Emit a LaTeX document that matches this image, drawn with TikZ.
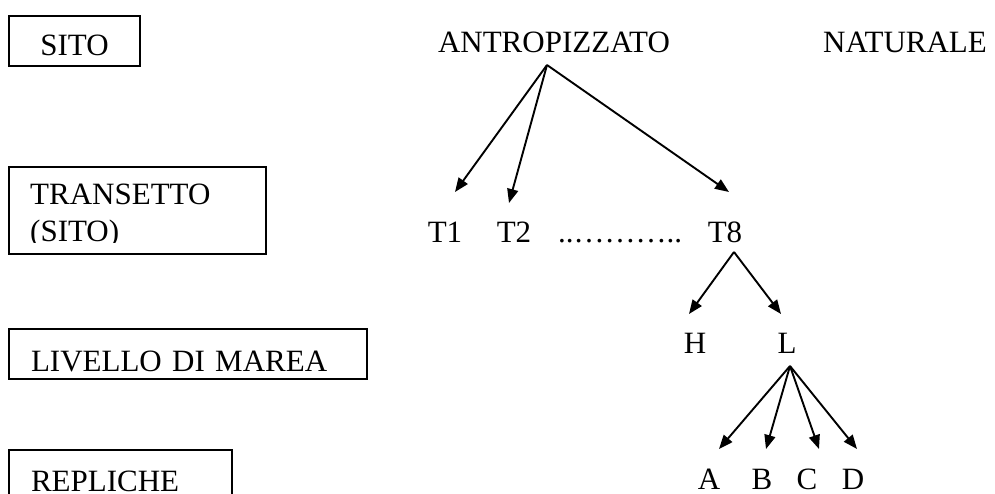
\documentclass[tikz,border=0pt]{standalone}
\usepackage{fontspec}
\setmainfont{Liberation Serif}
\usetikzlibrary{arrows.meta}

\begin{document}
\begin{tikzpicture}[x=1pt,y=-1pt,
  every node/.style={font=\fontsize{31}{37}\selectfont},
  lvl/.style={draw,line width=2pt,anchor=north west,inner xsep=22pt,inner ysep=0pt,align=left},
  lbl/.style={anchor=base,inner sep=0pt},
  arr/.style={line width=1.9pt,-{Triangle[length=14pt,width=11pt]}}]
  % Picture frame
  \clip (0,0) rectangle (995,494);
  % Level boxes on the left
  \node[lvl,align=center,text width=87pt,text height=40pt,text depth=10pt] (sito) at (8,15) {SITO};
  \node[lvl,minimum width=257pt,minimum height=87pt] (transetto) at (8,166) {};
  \begin{scope}
    \clip (transetto.north west) rectangle (265,243);
    % base of a two-line node is the base of its last line
    \node[lbl,anchor=base west,align=left] (transettotxt) at (30,242) {TRANSETTO\\(SITO)};
  \end{scope}
  \node[lvl,text width=314pt,text height=42pt,text depth=8pt] (livello) at (8,328) {LIVELLO DI MAREA};
  \node[lvl,text width=179pt,text height=41pt,text depth=25pt] (repliche) at (8,449) {REPLICHE};
  % Sites
  \node[lbl] (antro) at (554,53) {ANTROPIZZATO};
  \node[lbl] (natur) at (905,53) {NATURALE};
  % Transects
  \foreach \name/\x/\txt in {t1/445/T1,t2/514/T2,t8/725/T8}
    \node[lbl] (\name) at (\x,243) {\txt};
  \node[lbl,anchor=base west] (dots) at (558,243) {..………..};
  % Tide levels
  \node[lbl] (h) at (695,353) {H};
  \node[lbl] (l) at (787,353) {L};
  % Replicates
  \foreach \name/\x in {A/709,B/762,C/807,D/853}
    \node[lbl] (r\name) at (\x,489) {\name};
  % Arrows
  \foreach \to/\dx/\dy in {t1/10/-51,t2/-5/-40,t8/4/-51}
    \draw[arr] ([shift={(-7,12)}]antro.base) -- ([shift={(\dx,\dy)}]\to.base);
  \foreach \to in {h,l}
    \draw[arr] ([shift={(9,9)}]t8.base) -- ([shift={(-6,-39)}]\to.base);
  \foreach \to/\dx in {rA/10,rB/4,rC/12,rD/4}
    \draw[arr] ([shift={(3,13)}]l.base) -- ([shift={(\dx,-40)}]\to.base);
\end{tikzpicture}
\end{document}
